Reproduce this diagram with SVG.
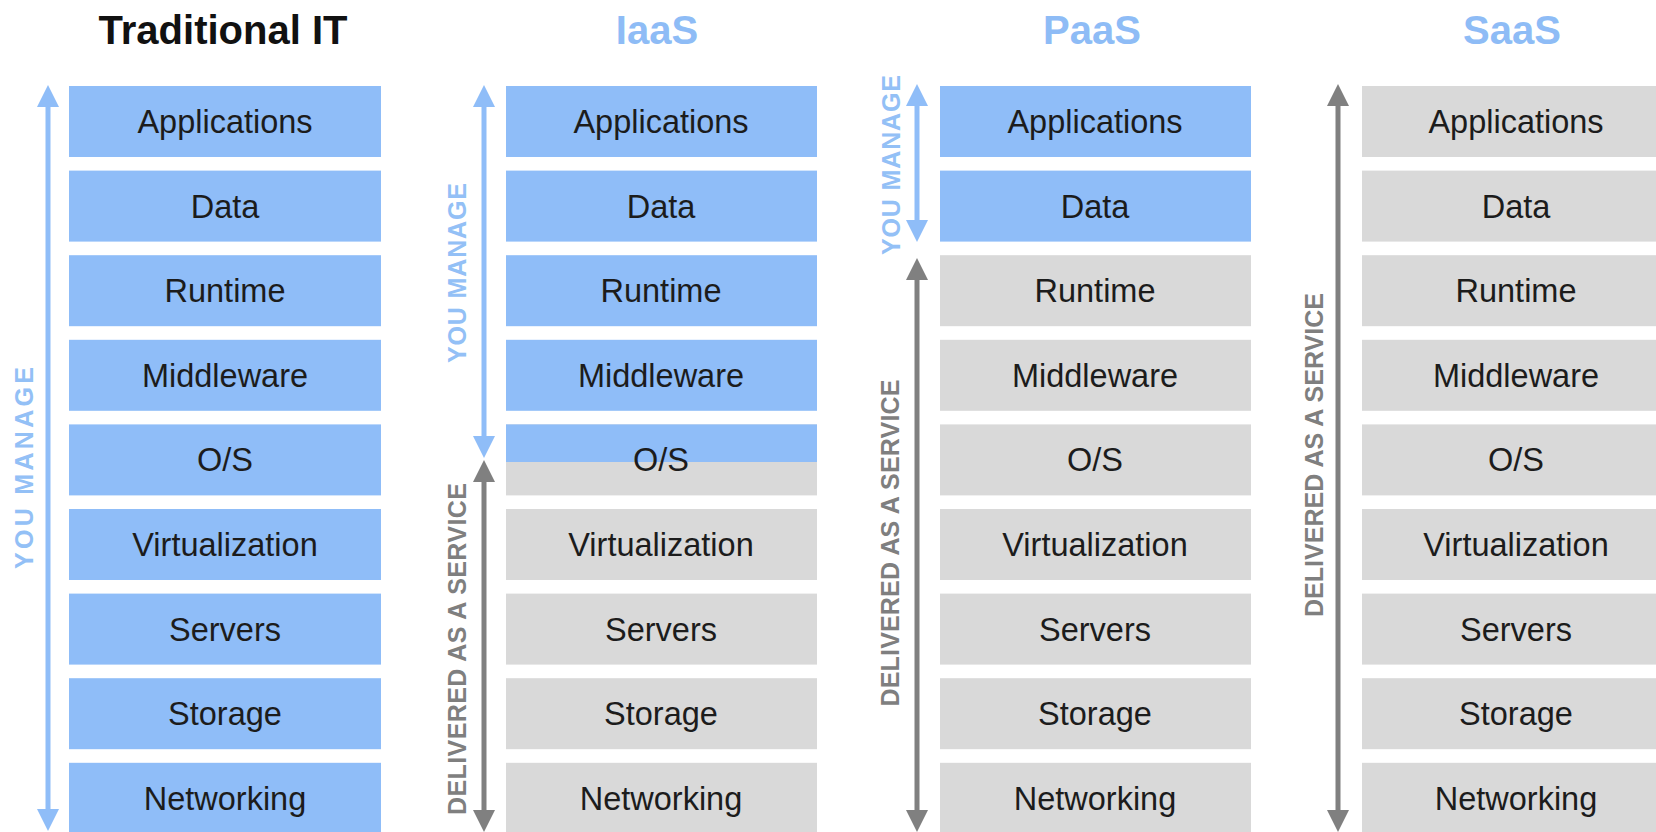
<svg xmlns="http://www.w3.org/2000/svg" width="1656" height="832" viewBox="0 0 1656 832">
<style>
.bg{fill:#ffffff}
.blue{fill:#8fbdf8}
.gray{fill:#d9d9d9}
.lbl{font-family:"Liberation Sans",Arial,sans-serif;font-size:32.5px;fill:#1c1c1c;text-anchor:middle}
.title{font-family:"Liberation Sans",Arial,sans-serif;font-size:40px;font-weight:bold;text-anchor:middle}
.vt{font-family:"Liberation Sans",Arial,sans-serif;font-size:25px;font-weight:bold;text-anchor:middle}
.vblue{fill:#93c0f6}
.vgray{fill:#7f7f7f}
.ab{stroke:#8fbdf8;stroke-width:5;fill:none}
.ag{stroke:#808080;stroke-width:5;fill:none}
</style>
<defs>
<marker id="hb" viewBox="0 0 22 22" refX="2" refY="11" markerWidth="22" markerHeight="22" markerUnits="userSpaceOnUse" orient="auto-start-reverse"><path d="M0,0 L22,11 L0,22 z" fill="#8fbdf8"/></marker>
<marker id="hg" viewBox="0 0 22 22" refX="2" refY="11" markerWidth="22" markerHeight="22" markerUnits="userSpaceOnUse" orient="auto-start-reverse"><path d="M0,0 L22,11 L0,22 z" fill="#808080"/></marker>
</defs>
<rect class="bg" x="0" y="0" width="1656" height="832"/>

<!-- Titles -->
<text class="title" x="223" y="44" fill="#111111">Traditional IT</text>
<text class="title" x="657" y="44" fill="#8ebcf6">IaaS</text>
<text class="title" x="1092" y="44" fill="#8ebcf6">PaaS</text>
<text class="title" x="1512" y="44" fill="#8ebcf6">SaaS</text>

<!-- Traditional IT column -->
<g id="trad">
<g id="trad-app"><rect class="blue" x="69" y="86" width="312" height="71"/><text class="lbl" x="225" y="133">Applications</text></g>
<g id="trad-data"><rect class="blue" x="69" y="170.6" width="312" height="71"/><text class="lbl" x="225" y="217.6">Data</text></g>
<g id="trad-runtime"><rect class="blue" x="69" y="255.2" width="312" height="71"/><text class="lbl" x="225" y="302.2">Runtime</text></g>
<g id="trad-mw"><rect class="blue" x="69" y="339.8" width="312" height="71"/><text class="lbl" x="225" y="386.8">Middleware</text></g>
<g id="trad-os"><rect class="blue" x="69" y="424.4" width="312" height="71"/><text class="lbl" x="225" y="471.4">O/S</text></g>
<g id="trad-virt"><rect class="blue" x="69" y="509" width="312" height="71"/><text class="lbl" x="225" y="556">Virtualization</text></g>
<g id="trad-servers"><rect class="blue" x="69" y="593.6" width="312" height="71"/><text class="lbl" x="225" y="640.6">Servers</text></g>
<g id="trad-storage"><rect class="blue" x="69" y="678.2" width="312" height="71"/><text class="lbl" x="225" y="725.2">Storage</text></g>
<g id="trad-net"><rect class="blue" x="69" y="762.8" width="312" height="71"/><text class="lbl" x="225" y="809.8">Networking</text></g>
</g>

<!-- IaaS column -->
<g id="iaas">
<g id="iaas-app"><rect class="blue" x="506" y="86" width="311" height="71"/><text class="lbl" x="661" y="133">Applications</text></g>
<g id="iaas-data"><rect class="blue" x="506" y="170.6" width="311" height="71"/><text class="lbl" x="661" y="217.6">Data</text></g>
<g id="iaas-runtime"><rect class="blue" x="506" y="255.2" width="311" height="71"/><text class="lbl" x="661" y="302.2">Runtime</text></g>
<g id="iaas-mw"><rect class="blue" x="506" y="339.8" width="311" height="71"/><text class="lbl" x="661" y="386.8">Middleware</text></g>
<g id="iaas-os"><rect class="gray" x="506" y="424.4" width="311" height="71"/><rect class="blue" x="506" y="424.4" width="311" height="37.6"/><text class="lbl" x="661" y="471.4">O/S</text></g>
<g id="iaas-virt"><rect class="gray" x="506" y="509" width="311" height="71"/><text class="lbl" x="661" y="556">Virtualization</text></g>
<g id="iaas-servers"><rect class="gray" x="506" y="593.6" width="311" height="71"/><text class="lbl" x="661" y="640.6">Servers</text></g>
<g id="iaas-storage"><rect class="gray" x="506" y="678.2" width="311" height="71"/><text class="lbl" x="661" y="725.2">Storage</text></g>
<g id="iaas-net"><rect class="gray" x="506" y="762.8" width="311" height="71"/><text class="lbl" x="661" y="809.8">Networking</text></g>
</g>

<!-- PaaS column -->
<g id="paas">
<g id="paas-app"><rect class="blue" x="940" y="86" width="311" height="71"/><text class="lbl" x="1095" y="133">Applications</text></g>
<g id="paas-data"><rect class="blue" x="940" y="170.6" width="311" height="71"/><text class="lbl" x="1095" y="217.6">Data</text></g>
<g id="paas-runtime"><rect class="gray" x="940" y="255.2" width="311" height="71"/><text class="lbl" x="1095" y="302.2">Runtime</text></g>
<g id="paas-mw"><rect class="gray" x="940" y="339.8" width="311" height="71"/><text class="lbl" x="1095" y="386.8">Middleware</text></g>
<g id="paas-os"><rect class="gray" x="940" y="424.4" width="311" height="71"/><text class="lbl" x="1095" y="471.4">O/S</text></g>
<g id="paas-virt"><rect class="gray" x="940" y="509" width="311" height="71"/><text class="lbl" x="1095" y="556">Virtualization</text></g>
<g id="paas-servers"><rect class="gray" x="940" y="593.6" width="311" height="71"/><text class="lbl" x="1095" y="640.6">Servers</text></g>
<g id="paas-storage"><rect class="gray" x="940" y="678.2" width="311" height="71"/><text class="lbl" x="1095" y="725.2">Storage</text></g>
<g id="paas-net"><rect class="gray" x="940" y="762.8" width="311" height="71"/><text class="lbl" x="1095" y="809.8">Networking</text></g>
</g>

<!-- SaaS column -->
<g id="saas">
<g id="saas-app"><rect class="gray" x="1362" y="86" width="311" height="71"/><text class="lbl" x="1516" y="133">Applications</text></g>
<g id="saas-data"><rect class="gray" x="1362" y="170.6" width="311" height="71"/><text class="lbl" x="1516" y="217.6">Data</text></g>
<g id="saas-runtime"><rect class="gray" x="1362" y="255.2" width="311" height="71"/><text class="lbl" x="1516" y="302.2">Runtime</text></g>
<g id="saas-mw"><rect class="gray" x="1362" y="339.8" width="311" height="71"/><text class="lbl" x="1516" y="386.8">Middleware</text></g>
<g id="saas-os"><rect class="gray" x="1362" y="424.4" width="311" height="71"/><text class="lbl" x="1516" y="471.4">O/S</text></g>
<g id="saas-virt"><rect class="gray" x="1362" y="509" width="311" height="71"/><text class="lbl" x="1516" y="556">Virtualization</text></g>
<g id="saas-servers"><rect class="gray" x="1362" y="593.6" width="311" height="71"/><text class="lbl" x="1516" y="640.6">Servers</text></g>
<g id="saas-storage"><rect class="gray" x="1362" y="678.2" width="311" height="71"/><text class="lbl" x="1516" y="725.2">Storage</text></g>
<g id="saas-net"><rect class="gray" x="1362" y="762.8" width="311" height="71"/><text class="lbl" x="1516" y="809.8">Networking</text></g>
</g>

<!-- Connectors (range arrows) -->
<g id="connectors">
<line class="ab" x1="48" y1="105" x2="48" y2="811" marker-start="url(#hb)" marker-end="url(#hb)"/>
<line class="ab" x1="484" y1="105" x2="484" y2="438" marker-start="url(#hb)" marker-end="url(#hb)"/>
<line class="ag" x1="484" y1="480" x2="484" y2="812" marker-start="url(#hg)" marker-end="url(#hg)"/>
<line class="ab" x1="917" y1="104" x2="917" y2="222" marker-start="url(#hb)" marker-end="url(#hb)"/>
<line class="ag" x1="917" y1="278" x2="917" y2="812" marker-start="url(#hg)" marker-end="url(#hg)"/>
<line class="ag" x1="1338" y1="104" x2="1338" y2="812" marker-start="url(#hg)" marker-end="url(#hg)"/>
</g>

<!-- Vertical labels -->
<g id="labels">
<text class="vt vblue" transform="translate(33,468) rotate(-90)" textLength="202" lengthAdjust="spacing">YOU MANAGE</text>
<text class="vt vblue" transform="translate(466,273) rotate(-90)" textLength="180" lengthAdjust="spacing">YOU MANAGE</text>
<text class="vt vgray" transform="translate(466,649) rotate(-90)" textLength="332" lengthAdjust="spacing">DELIVERED AS A SERVICE</text>
<text class="vt vblue" transform="translate(900,165) rotate(-90)" textLength="180" lengthAdjust="spacing">YOU MANAGE</text>
<text class="vt vgray" transform="translate(899,543) rotate(-90)" textLength="327" lengthAdjust="spacing">DELIVERED AS A SERVICE</text>
<text class="vt vgray" transform="translate(1323,455) rotate(-90)" textLength="324" lengthAdjust="spacing">DELIVERED AS A SERVICE</text>
</g>
</svg>
